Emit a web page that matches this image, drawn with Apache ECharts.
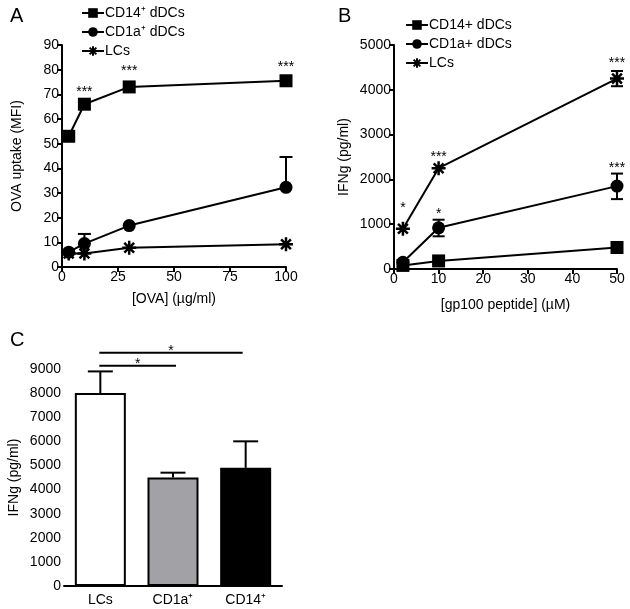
<!DOCTYPE html>
<html>
<head>
<meta charset="utf-8">
<script src="https://cdn.jsdelivr.net/npm/echarts@6/dist/echarts.min.js"></script>
<style>
  html, body { margin: 0; padding: 0; background: #fff; }
  #chart { width: 630px; height: 609px; }
</style>
</head>
<body>
<div id="chart"></div>
<script>
// panel A: OVA uptake
const ovaX = [3, 10, 30, 100];
const ovaCD14 = [53, 66, 73, 75.5];
const ovaCD1a = [6, 9.5, 16.8, 32.3];
const ovaLC = [5.5, 5.5, 7.8, 9.2];
const ovaErr = [[10, 9.5, 13.4], [100, 32.3, 44.6]]; // [x, mean, upper]
const ovaStars = [[10, 70.9, '***'], [30, 79.4, '***'], [100, 81.1, '***']];

// panel B: IFNg vs peptide
const pepX = [2, 10, 50];
const pepCD14 = [80, 180, 480];
const pepCD1a = [150, 920, 1850];
const pepLC = [900, 2250, 4250];
const pepErr = [[10, 730, 1100], [50, 1560, 2130], [50, 4080, 4420]]; // [x, lower, upper]
const pepStars = [[2, 1360, '*'], [10, 2500, '***'], [50, 4600, '***'], [10, 1230, '*'], [50, 2250, '***']];

// panel C: IFNg by cell type
const cellTypes = ['LCs', 'CD1a⁺', 'CD14⁺'];
const ifng = [8000, 4500, 4900];
const ifngErrHi = [8900, 4700, 6000];
const sigBars = [[0, 1, 9130, 9215], [0, 2, 9670, 9750]]; // [from, to, line y, star y]

const font = 'Liberation Sans, Arial, sans-serif';
const starPath = 'path://M0,-10L0,10M-10,0L10,0M-7,-7L7,7M-7,7L7,-7';

function axisStyle () {
  return {
    axisLine: { lineStyle: { color: '#000', width: 2 } },
    axisTick: { length: 5, lineStyle: { color: '#000', width: 2 } },
    axisLabel: { color: '#000', fontSize: 14, fontFamily: font, margin: 3, formatter: v => String(v) },
    splitLine: { show: false },
    nameTextStyle: { color: '#000', fontSize: 14, fontFamily: font }
  };
}

function lineSeries (name, x, y, idx, symbol) {
  const s = {
    name: name,
    type: 'line',
    xAxisIndex: idx,
    yAxisIndex: idx,
    data: x.map((v, i) => [v, y[i]]),
    symbol: symbol,
    symbolSize: symbol === starPath ? 14 : 13,
    lineStyle: { color: '#000', width: 2 },
    itemStyle: { color: '#000' },
    z: 3
  };
  if (symbol === starPath) {
    s.itemStyle = { color: '#000', borderColor: '#000', borderWidth: 2.5 };
  }
  return s;
}

function errSeries (data, idx, both, capW) {
  return {
    type: 'custom',
    xAxisIndex: idx,
    yAxisIndex: idx,
    data: data,
    z: 2,
    renderItem: function (params, api) {
      const lo = api.coord([api.value(0), api.value(1)]);
      const hi = api.coord([api.value(0), api.value(2)]);
      const st = { stroke: '#000', lineWidth: 2 };
      const kids = [
        { type: 'line', shape: { x1: lo[0], y1: lo[1], x2: hi[0], y2: hi[1] }, style: st },
        { type: 'line', shape: { x1: hi[0] - capW / 2, y1: hi[1], x2: hi[0] + capW / 2, y2: hi[1] }, style: st }
      ];
      if (both) {
        kids.push({ type: 'line', shape: { x1: lo[0] - capW / 2, y1: lo[1], x2: lo[0] + capW / 2, y2: lo[1] }, style: st });
      }
      return { type: 'group', children: kids };
    }
  };
}

function starSeries (data, idx) {
  return {
    type: 'custom',
    xAxisIndex: idx,
    yAxisIndex: idx,
    data: data.map(d => [d[0], d[1]]),
    z: 4,
    renderItem: function (params, api) {
      const p = api.coord([api.value(0), api.value(1)]);
      return {
        type: 'text',
        x: p[0],
        y: p[1],
        style: { text: data[params.dataIndex][2], fill: '#000', fontSize: 14, fontFamily: font, align: 'center', verticalAlign: 'middle' }
      };
    }
  };
}

const chart = echarts.init(document.getElementById('chart'));
const letterStyle = { fontSize: 20, fontWeight: 'normal', fontFamily: font, color: '#000' };

const option = {
  animation: false,
  backgroundColor: '#fff',
  title: [
    { text: 'A', left: 5, top: 1, textStyle: letterStyle },
    { text: 'B', left: 333, top: 1, textStyle: letterStyle },
    { text: 'C', left: 5, top: 325, textStyle: letterStyle }
  ],
  legend: [
    {
      data: ['CD14⁺ dDCs', 'CD1a⁺ dDCs', 'LCs'],
      orient: 'vertical',
      left: 76,
      top: 1,
      itemWidth: 22,
      itemHeight: 12,
      itemGap: 5,
      textStyle: { color: '#000', fontSize: 14, fontFamily: font, padding: [0, 0, 0, -4] }
    },
    {
      data: ['CD14+ dDCs', 'CD1a+ dDCs', 'LCs'],
      orient: 'vertical',
      left: 400,
      top: 13,
      itemWidth: 22,
      itemHeight: 12,
      itemGap: 5,
      textStyle: { color: '#000', fontSize: 14, fontFamily: font, padding: [0, 0, 0, -4] }
    }
  ],
  grid: [
    { left: 62, right: 344, top: 45, bottom: 342 },
    { left: 394, right: 13, top: 45, bottom: 340 },
    { left: 64, right: 348, top: 369, bottom: 23 }
  ],
  xAxis: [
    Object.assign(axisStyle(), {
      type: 'value', gridIndex: 0, min: 0, max: 100, interval: 25,
      name: '[OVA] (µg/ml)', nameLocation: 'middle', nameGap: 25
    }),
    Object.assign(axisStyle(), {
      type: 'value', gridIndex: 1, min: 0, max: 50, interval: 10,
      name: '[gp100 peptide] (µM)', nameLocation: 'middle', nameGap: 29
    }),
    Object.assign(axisStyle(), {
      type: 'category', gridIndex: 2, data: cellTypes,
      axisTick: { show: false },
      axisLabel: { color: '#000', fontSize: 14, fontFamily: font, margin: 7 }
    })
  ],
  yAxis: [
    Object.assign(axisStyle(), {
      type: 'value', gridIndex: 0, min: 0, max: 90, interval: 10,
      name: 'OVA uptake (MFI)', nameLocation: 'middle', nameGap: 38
    }),
    Object.assign(axisStyle(), {
      type: 'value', gridIndex: 1, min: 0, max: 5000, interval: 1000,
      name: 'IFNg (pg/ml)', nameLocation: 'middle', nameGap: 43
    }),
    Object.assign(axisStyle(), {
      type: 'value', gridIndex: 2, min: 0, max: 9000, interval: 1000,
      name: 'IFNg (pg/ml)', nameLocation: 'middle', nameGap: 43
    })
  ],
  series: [
    errSeries(ovaErr, 0, false, 13),
    lineSeries('CD14⁺ dDCs', ovaX, ovaCD14, 0, 'rect'),
    lineSeries('CD1a⁺ dDCs', ovaX, ovaCD1a, 0, 'circle'),
    lineSeries('LCs', ovaX, ovaLC, 0, starPath),
    starSeries(ovaStars, 0),

    errSeries(pepErr, 1, true, 12),
    lineSeries('CD14+ dDCs', pepX, pepCD14, 1, 'rect'),
    lineSeries('CD1a+ dDCs', pepX, pepCD1a, 1, 'circle'),
    lineSeries('LCs', pepX, pepLC, 1, starPath),
    starSeries(pepStars, 1),

    errSeries(ifng.map((v, i) => [i, v, ifngErrHi[i]]), 2, false, 25),
    {
      type: 'bar',
      xAxisIndex: 2,
      yAxisIndex: 2,
      barWidth: 51,
      z: 3,
      data: ifng.map((v, i) => ({
        value: v,
        itemStyle: { color: ['#fff', '#a2a2a6', '#000'][i], borderColor: '#000', borderWidth: 2 }
      }))
    },
    {
      type: 'custom',
      xAxisIndex: 2,
      yAxisIndex: 2,
      data: sigBars.map(d => [d[0], d[2]]),
      z: 4,
      renderItem: function (params, api) {
        const d = sigBars[params.dataIndex];
        const a = api.coord([d[0], d[2]]);
        const b = api.coord([d[1], d[2]]);
        const t = api.coord([d[1], d[3]]);
        const x1 = a[0] - 1;
        const x2 = b[0] + (d[1] === 1 ? 3 : -3);
        return {
          type: 'group',
          children: [
            { type: 'line', shape: { x1: x1, y1: a[1], x2: x2, y2: b[1] }, style: { stroke: '#000', lineWidth: 2 } },
            { type: 'text', x: (x1 + x2) / 2, y: t[1], style: { text: '*', fill: '#000', fontSize: 14, fontFamily: font, align: 'center', verticalAlign: 'middle' } }
          ]
        };
      }
    }
  ]
};

chart.setOption(option);
</script>
</body>
</html>
